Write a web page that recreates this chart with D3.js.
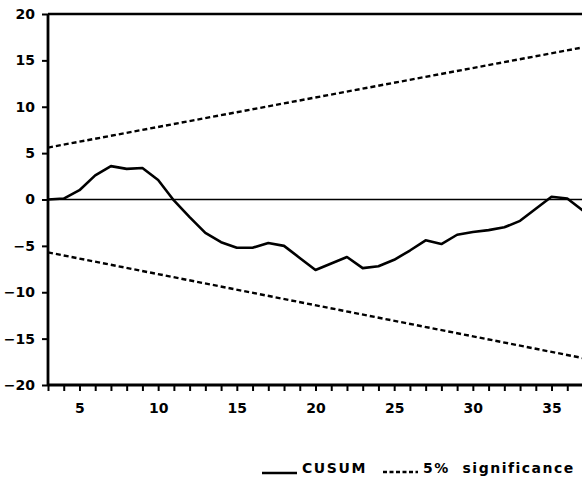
<!DOCTYPE html>
<html>
<head>
<meta charset="utf-8">
<script src="https://cdn.jsdelivr.net/npm/d3@7"></script>
<style>
  html, body { margin: 0; padding: 0; background: #fff; }
  svg { display: block; }
  text { font-family: "DejaVu Sans", sans-serif; font-weight: bold; fill: #000; }
</style>
</head>
<body>
<svg id="chart" width="582" height="487"></svg>
<script>
// ---- data ----
const periods = [3,4,5,6,7,8,9,10,11,12,13,14,15,16,17,18,19,20,21,22,23,24,25,26,27,28,29,30,31,32,33,34,35,36,37];
const cusum   = [0,0.1,1.0,2.6,3.6,3.3,3.4,2.1,-0.1,-1.9,-3.6,-4.6,-5.2,-5.2,-4.7,-5.0,-6.3,-7.6,-6.9,-6.2,-7.4,-7.2,-6.5,-5.5,-4.4,-4.8,-3.8,-3.5,-3.3,-3.0,-2.3,-1.0,0.3,0.1,-1.2];
const sigPeriods = [3, 37];
const upper5  = [5.6, 16.4];
const lower5  = [-5.7, -17.1];
const xTicks  = [5,10,15,20,25,30,35];
const yTicks  = [-20,-15,-10,-5,0,5,10,15,20];
const legendLabels = ["CUSUM", "5% significance"];

// ---- chart ----
const svg = d3.select("#chart");
const x = d3.scaleLinear().domain([3, 37]).range([48, 583]);
const y = d3.scaleLinear().domain([-20, 20]).range([385, 14]);

// zero line
svg.append("line")
  .attr("x1", x(3)).attr("x2", 582)
  .attr("y1", y(0)).attr("y2", y(0))
  .attr("stroke", "#000").attr("stroke-width", 1.6);

const line = d3.line().x(d => x(d[0])).y(d => y(d[1]));

// significance bounds
[upper5, lower5].forEach(arr => {
  svg.append("path")
    .datum(sigPeriods.map((p, i) => [p, arr[i]]))
    .attr("d", line)
    .attr("fill", "none")
    .attr("stroke", "#000")
    .attr("stroke-width", 2.4)
    .attr("stroke-dasharray", "5,3");
});

// CUSUM
svg.append("path")
  .datum(periods.map((p, i) => [p, cusum[i]]))
  .attr("d", line)
  .attr("fill", "none")
  .attr("stroke", "#000")
  .attr("stroke-width", 2.6)
  .attr("stroke-linejoin", "round");

// top border
svg.append("line")
  .attr("x1", x(3)).attr("x2", 582)
  .attr("y1", y(20)).attr("y2", y(20))
  .attr("stroke", "#000").attr("stroke-width", 2.6);

// x axis: minor ticks every unit, labels at 5s
const xAxis = d3.axisBottom(x)
  .tickValues(d3.range(3, 38))
  .tickSize(6)
  .tickPadding(4)
  .tickFormat(d => xTicks.includes(d) ? d : "");
const gx = svg.append("g").attr("transform", `translate(0,${y(-20)})`).call(xAxis);
gx.select(".domain").attr("stroke-width", 2.8).attr("d", `M${x(3)},0H582`);
gx.selectAll(".tick line").attr("stroke-width", 2);
gx.selectAll(".tick text").attr("font-size", 14).attr("dy", "1.3em");

// y axis
const yAxis = d3.axisLeft(y).tickValues(yTicks).tickSize(6).tickPadding(7)
  .tickFormat(d => d < 0 ? "\u2212" + Math.abs(d) : d);
const gy = svg.append("g").attr("transform", `translate(${x(3)},0)`).call(yAxis);
gy.select(".domain").attr("stroke-width", 2.8).attr("d", `M0,${y(20)}V${y(-20)}`);
gy.selectAll(".tick line").attr("stroke-width", 2);
gy.selectAll(".tick text").attr("font-size", 14);

// legend
const lg = svg.append("g");
lg.append("line").attr("x1", 262).attr("x2", 297).attr("y1", 473).attr("y2", 473)
  .attr("stroke", "#000").attr("stroke-width", 2.4);
lg.append("text").attr("x", 302).attr("y", 473).attr("font-size", 14)
  .attr("letter-spacing", 1.6).text(legendLabels[0]);
lg.append("line").attr("x1", 383).attr("x2", 418).attr("y1", 472).attr("y2", 472)
  .attr("stroke", "#000").attr("stroke-width", 2.4).attr("stroke-dasharray", "4,2.5");
lg.append("text").attr("x", 423).attr("y", 473).attr("font-size", 14)
  .attr("letter-spacing", 1.5).attr("xml:space", "preserve")
  .text(legendLabels[1].replace(" ", "\u00a0\u00a0"));
</script>
</body>
</html>
